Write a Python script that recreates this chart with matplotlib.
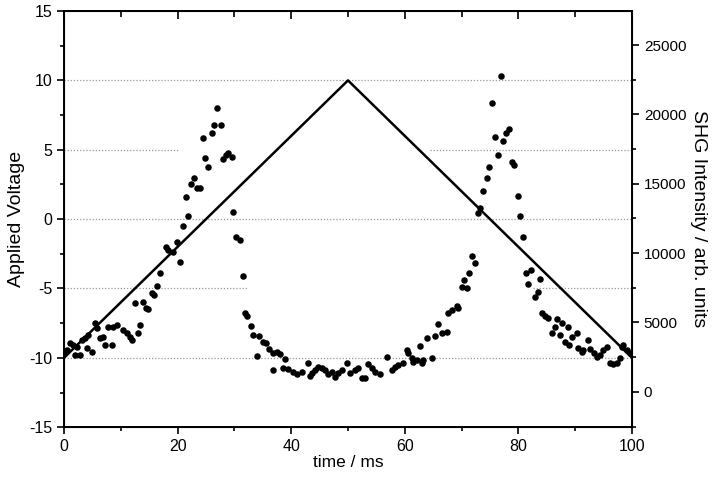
import numpy as np
import matplotlib
matplotlib.use("Agg")
from matplotlib import pyplot as plt
from matplotlib.ticker import MultipleLocator

plt.rcParams['font.family'] = ['Liberation Sans', 'DejaVu Sans']
plt.rcParams['axes.unicode_minus'] = False

# applied voltage ramp (triangle)
volt_t = [0, 50, 100]
volt_v = [-10, 10, -10]

# SHG intensity points
time_ms = [0.0, 0.47, 1.06, 1.64, 1.94, 2.23, 2.82, 3.11, 3.70, 3.99, 4.28, 4.87, 5.46, 5.75,
           6.34, 6.92, 7.22, 7.80, 8.39, 8.68, 9.27, 10.45, 11.03, 11.62, 11.91, 12.5, 13.08,
           13.38, 13.97, 14.44, 14.85, 15.43, 15.85, 16.43, 16.9, 17.96, 18.37, 19.24, 19.84,
           20.42, 21.0, 21.48, 21.89, 22.3, 22.89, 23.36, 23.94, 24.42, 24.82, 25.41, 26.0,
           26.41, 26.88, 27.58, 27.94, 28.52, 28.93, 29.52, 29.81, 30.28, 30.99, 31.46, 31.87,
           32.27, 32.87, 33.33, 33.92, 34.38,
           34.98, 35.56, 36.15, 36.74, 36.85, 37.45, 38.03, 38.6, 38.91, 39.5, 40.37, 40.96,
           41.84, 43.0, 43.31, 43.6, 44.19, 44.77, 45.37, 45.95, 46.53, 47.13, 47.71, 48.29,
           48.89, 49.77, 50.35, 51.23, 51.81, 52.41, 52.99, 53.57, 54.17, 54.75, 55.63, 56.81,
           57.69, 58.27, 58.86, 59.74, 60.33, 60.62, 61.21, 61.5, 62.1, 62.68, 62.97, 63.26,
           63.85, 64.74, 65.32, 65.9, 66.5, 67.38, 67.66, 68.26, 69.14, 69.42,
           70.02, 70.42, 70.9, 71.36, 71.89, 72.36, 72.83, 73.24, 73.82, 74.42, 74.88, 75.3,
           75.88, 76.46, 76.88, 77.34, 77.76, 78.35, 78.82, 79.23, 79.88, 80.28, 80.86, 81.34,
           81.74, 82.22, 82.92, 83.4, 83.8,
           84.1, 84.68, 85.27, 85.86, 86.44, 86.74, 87.32, 87.62, 88.2, 88.79, 88.96, 89.38,
           90.26, 90.55, 91.14, 91.43, 92.31, 92.6, 93.31, 93.78, 94.37, 94.95, 95.54, 96.13,
           96.71, 97.3, 97.89, 98.18, 98.47, 99.06, 99.65]
shg = [2770, 3009, 3492, 3369, 2648, 3247, 2648, 3730, 3853, 3131, 4091, 2886, 4935, 4574,
       3853, 3968, 3369, 4690, 3369, 4690, 4812, 4452, 4213, 3968, 3730, 6378, 4213,
       4812, 6494, 6017, 5945, 7100, 6977, 7626, 8542, 10462, 10224, 10101, 10823,
       9380, 11955, 14069, 12677, 14986, 15397, 14675, 14675, 18283, 16840, 16234, 18644,
       19242, 20447, 19242, 16768, 17078, 17200, 16955, 12987, 11183, 10945, 8348, 5657,
       5462, 4762, 4091, 2576, 4019,
       3608, 3492, 3059, 2770, 1566, 2886, 2720, 1688, 2338, 1616, 1443, 1277,
       1443, 2092, 1133, 1371, 1566, 1760, 1688, 1566, 1277, 1443, 1039, 1328,
       1566, 2049, 1371, 1566, 1688, 967, 967, 1999, 1688, 1443, 1277, 2525,
       1566, 1804, 1926, 2049, 3009, 2770, 2410, 2165, 2287, 3297, 2049, 2287,
       3853, 2410, 4019, 4884, 4213, 4329, 5657, 5895, 6183, 6017,
       7532, 8059, 7460, 8542, 9791, 9264, 12915, 13232, 14502, 15397, 16190, 20808,
       18355, 17078, 22778, 18110, 18644, 18932, 16595, 16356, 14120, 12677, 11183, 8542,
       7771, 8781, 6811, 7215, 8110,
       5657, 5462, 5296, 4213, 4690, 5224, 4091, 4935, 3608, 4690, 3369, 3968,
       4257, 3131, 2886, 3009, 3730, 3059, 2770, 2525, 2648, 3009, 3247, 2049,
       1999, 2092, 2410, 3247, 3369, 3009, 2770]

fig = plt.figure(figsize=(7.19, 4.8), dpi=100)
ax = fig.add_axes([0.089, 0.110, 0.790, 0.867])

# dotted grid, some pieces missing like in the scan
gc = dict(color='#999999', lw=0.9, ls=(0, (1, 1.5)), zorder=0)
ax.axhline(10, **gc)
ax.axhline(0, **gc)
ax.axhline(-10, **gc)
ax.axhline(5, xmin=0.0, xmax=0.20, **gc)
ax.axhline(5, xmin=0.644, xmax=1.0, **gc)
ax.axhline(-5, xmin=0.0, xmax=0.322, **gc)
ax.axhline(-5, xmin=0.826, xmax=1.0, **gc)

ax.plot(volt_t, volt_v, color='black', lw=1.8, zorder=3)
ax.set_xlim(0, 100)
ax.set_ylim(-15, 15)
ax.xaxis.set_major_locator(MultipleLocator(20))
ax.xaxis.set_minor_locator(MultipleLocator(10))
ax.yaxis.set_major_locator(MultipleLocator(5))
ax.yaxis.set_minor_locator(MultipleLocator(2.5))
ax.tick_params(which='both', direction='out', width=1.2, labelsize=11.5)
ax.tick_params(which='major', length=5)
ax.tick_params(which='minor', length=3)
for s in ax.spines.values():
    s.set_linewidth(1.4)
ax.set_xlabel('time / ms', fontsize=12.5, labelpad=1)
ax.set_ylabel('Applied Voltage', fontsize=14, labelpad=3)

# top axis: ticks only, pointing inward
top = ax.secondary_xaxis('top')
top.xaxis.set_major_locator(MultipleLocator(20))
top.xaxis.set_minor_locator(MultipleLocator(10))
top.tick_params(which='both', direction='in', width=1.2, labeltop=False)
top.tick_params(which='major', length=6)
top.tick_params(which='minor', length=4)
top.spines['top'].set_linewidth(1.4)

ax2 = ax.twinx()
ax2.scatter(time_ms, shg, s=22, color='black', zorder=4, linewidths=0)
ax2.set_ylim(-2550, 27455)
ax2.yaxis.set_major_locator(MultipleLocator(5000))
ax2.yaxis.set_minor_locator(MultipleLocator(2500))
ax2.tick_params(which='both', direction='out', width=1.2, labelsize=11)
ax2.tick_params(which='major', length=5)
ax2.tick_params(which='minor', length=3)
ax2.set_ylabel('SHG Intensity / arb. units', fontsize=14, rotation=270, labelpad=15)

fig.savefig('out.png', dpi=100)
